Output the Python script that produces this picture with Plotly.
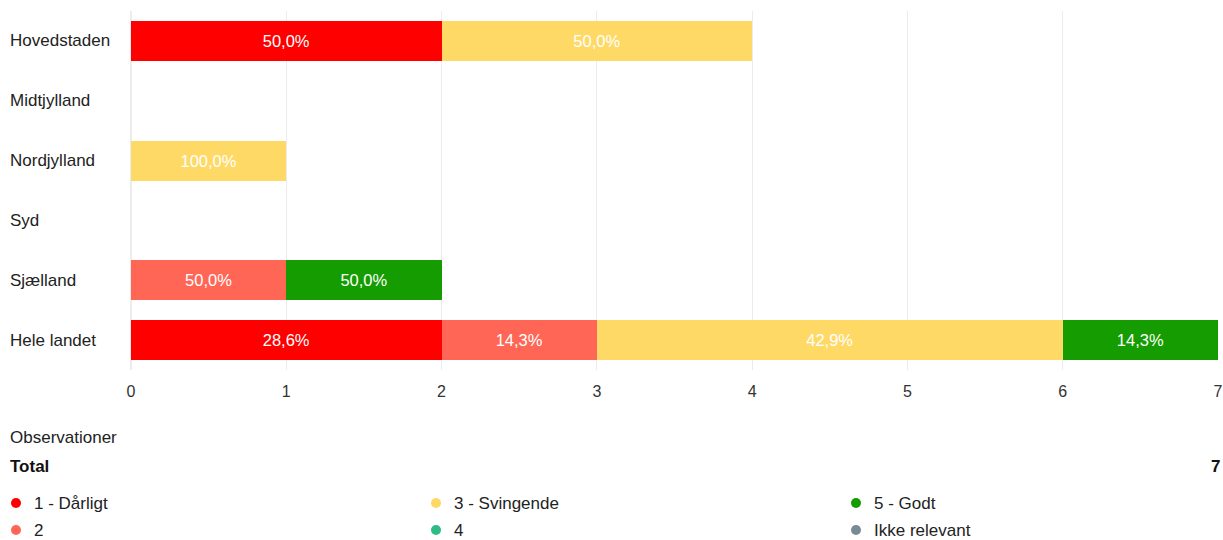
import plotly.graph_objects as go

regions = ["Hovedstaden", "Midtjylland", "Nordjylland", "Syd", "Sjælland", "Hele landet"]
answers = ["1 - Dårligt", "2", "3 - Svingende", "4", "5 - Godt", "Ikke relevant"]
counts = {
    "1 - Dårligt": [2, 0, 0, 0, 0, 2],
    "2": [0, 0, 0, 0, 1, 1],
    "3 - Svingende": [2, 0, 1, 0, 0, 3],
    "4": [0, 0, 0, 0, 0, 0],
    "5 - Godt": [0, 0, 0, 0, 1, 1],
    "Ikke relevant": [0, 0, 0, 0, 0, 0],
}
colors = ["#ff0000", "#ff6656", "#ffd966", "#2dbb86", "#149c00", "#788a94"]
total_label = "Total"
total_obs = 7

W, H = 1223, 540
L, R, T, B = 131, 5, 11, 170
FONT = "Arial, Liberation Sans, sans-serif"


def py(p):
    return (H - B - p) / (H - T - B)


def px(p):
    return (p - L) / (W - L - R)


row_totals = [sum(counts[a][i] for a in answers) for i in range(len(regions))]

fig = go.Figure()
for ans, col in zip(answers, colors):
    vals = counts[ans]
    text = [
        (f"{v / t * 100:.1f}%".replace(".", ",") if v else "")
        for v, t in zip(vals, row_totals)
    ]
    fig.add_trace(
        go.Bar(
            y=regions,
            x=vals,
            orientation="h",
            name=ans,
            marker=dict(color=col, line=dict(width=0)),
            text=text,
            textposition="inside",
            insidetextanchor="middle",
            textangle=0,
            textfont=dict(color="white", size=16.5, family=FONT),
            showlegend=False,
            hoverinfo="x+name",
        )
    )

annotations = []
for r in regions:
    annotations.append(dict(
        x=px(8), xref="paper", y=r, yref="y", text=r, showarrow=False,
        xanchor="left", yanchor="middle", font=dict(size=17, color="#222", family=FONT),
    ))

annotations.append(dict(
    x=px(8), xref="paper", y=py(437), yref="paper", text="Observationer",
    showarrow=False, xanchor="left", yanchor="middle",
    font=dict(size=17, color="#222", family=FONT),
))
annotations.append(dict(
    x=px(8), xref="paper", y=py(467), yref="paper", text=f"<b>{total_label}</b>",
    showarrow=False, xanchor="left", yanchor="middle",
    font=dict(size=17, color="#111", family=FONT),
))
annotations.append(dict(
    x=px(1222), xref="paper", y=py(467), yref="paper", text=f"<b>{total_obs}</b>",
    showarrow=False, xanchor="right", yanchor="middle",
    font=dict(size=17, color="#111", family=FONT),
))

shapes = []
leg_x = [16, 436, 856]
leg_y = [503, 530]
legend_order = ["1 - Dårligt", "3 - Svingende", "5 - Godt", "2", "4", "Ikke relevant"]
for k, ans in enumerate(legend_order):
    cx = leg_x[k % 3]
    cy = leg_y[k // 3]
    col = colors[answers.index(ans)]
    shapes.append(dict(
        type="circle", xref="paper", yref="paper", xsizemode="pixel", ysizemode="pixel",
        xanchor=px(cx), yanchor=py(cy), x0=-5, x1=5, y0=-5, y1=5,
        fillcolor=col, line=dict(width=0),
    ))
    annotations.append(dict(
        x=px(cx + 16), xref="paper", y=py(cy), yref="paper", text=ans,
        showarrow=False, xanchor="left", yanchor="middle",
        font=dict(size=17, color="#222", family=FONT),
    ))

fig.update_layout(
    width=W, height=H,
    margin=dict(l=L, r=R, t=T, b=B, autoexpand=False),
    barmode="stack",
    bargap=1 / 3,
    plot_bgcolor="white",
    paper_bgcolor="white",
    font=dict(family=FONT, size=16, color="#333"),
    xaxis=dict(
        range=[0, 7], dtick=1, showgrid=True, gridcolor="#ececec", gridwidth=1,
        zeroline=True, zerolinecolor="#ececec", showline=False, automargin=False,
        tickfont=dict(size=16, color="#333"), ticks="", ticklabelstandoff=10,
    ),
    yaxis=dict(
        categoryorder="array", categoryarray=regions, autorange="reversed",
        showticklabels=False, showgrid=False, zeroline=False, automargin=False,
    ),
    annotations=annotations,
    shapes=shapes,
    uniformtext=dict(mode="show", minsize=8),
)

fig.write_html(
    "out.html",
    config={"displayModeBar": False},
    post_script="document.body.style.margin='0';",
)
